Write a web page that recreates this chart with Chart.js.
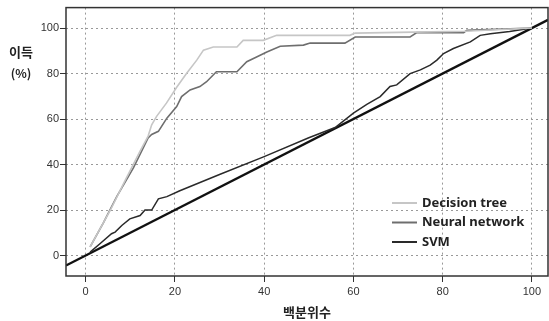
<!DOCTYPE html>
<html>
<head>
<meta charset="utf-8">
<script src="https://cdn.jsdelivr.net/npm/chart.js@4.4.7/dist/chart.umd.min.js"></script>
<style>
  html, body { margin: 0; padding: 0; background: #fff; }
  #chart { display: block; }
</style>
</head>
<body>
<canvas id="chart" width="549" height="321"></canvas>
<script>
// Gain chart: percentile (x) vs gain % (y)
const xRange = [-4.4, 103.6];
const yRange = [-9, 109];
const xTicks = [0, 20, 40, 60, 80, 100];
const yTicks = [0, 20, 40, 60, 80, 100];

const yTitle = ['이득', '(%)'];
const xTitle = '백분위수';
const seriesNames = ['Decision tree', 'Neural network', 'SVM'];

const decisionTreeX = [1, 5.5, 8.8, 12.2, 14, 14.8, 15.9, 18.1, 20.4, 22.6, 24.9, 26.4, 28.6, 33.9, 35.3, 39.8, 42.8, 59.2, 60.4, 73.4, 85, 100];
const decisionTreeY = [3.8, 19.8, 32.8, 45.9, 52.5, 57.5, 61.2, 67, 74, 80, 85.9, 90.3, 91.7, 91.7, 94.6, 94.6, 96.8, 96.8, 97.8, 98.2, 98.6, 100];

const neuralX = [1, 4, 7, 10.7, 14, 14.8, 16.3, 18.2, 20.4, 21.5, 23.4, 25.6, 27.1, 29.3, 33.9, 36.1, 38.3, 40.6, 43.6, 48.8, 50.3, 58.1, 60.4, 72.7, 74.2, 84.7, 85.4, 100];
const neuralY = [3.8, 14.5, 26, 38.5, 51.7, 53.2, 54.6, 60.4, 65.5, 69.9, 72.8, 74.3, 76.4, 80.8, 80.8, 85.2, 87.3, 89.5, 92, 92.5, 93.4, 93.4, 96.1, 96.1, 98, 98, 99, 100];

const svmX = [1, 3.2, 5.8, 6.6, 8.1, 9.9, 12.2, 13.3, 14.8, 16.3, 18.2, 21.1, 30, 40, 50, 55.9, 60, 63, 66, 68.2, 69.7, 72.7, 75, 77.2, 78.7, 80.2, 82.4, 86.2, 88.4, 90.7, 95, 100];
const svmY = [1.5, 5.2, 9.6, 10.3, 13.2, 16.1, 17.6, 20, 20, 24.9, 25.9, 28.5, 35.6, 43.5, 51.8, 56.3, 62.6, 66.5, 69.9, 74.3, 75, 80, 81.6, 83.7, 85.9, 88.8, 91, 93.9, 96.8, 97.5, 98.5, 100];

// random-selection reference line y = x
const baselineX = [-4.4, 103.6];
const baselineY = [-4.4, 103.6];

const SERIES_COLORS = ['#c6c6c6', '#6e6e6e', '#2a2a2a'];

function toPoints(xs, ys) {
  return xs.map((x, i) => ({ x, y: ys[i] }));
}

// axis titles + inline legend + frame
const decorPlugin = {
  id: 'decor',
  afterDraw(chart) {
    const { ctx, chartArea } = chart;
    ctx.save();
    ctx.strokeStyle = '#333';
    ctx.lineWidth = 1.5;
    ctx.strokeRect(chartArea.left, chartArea.top, chartArea.right - chartArea.left, chartArea.bottom - chartArea.top);

    ctx.fillStyle = '#222';
    ctx.textAlign = 'center';
    ctx.textBaseline = 'middle';
    ctx.font = "bold 13px 'Noto Sans CJK KR'";
    ctx.fillText(yTitle[0], 21, 52);
    ctx.font = "bold 12px 'Noto Sans CJK KR'";
    ctx.fillText(yTitle[1], 21, 73);
    ctx.font = "bold 13px 'Noto Sans CJK KR'";
    ctx.fillText(xTitle, (chartArea.left + chartArea.right) / 2, 312);

    // legend rows
    ctx.textAlign = 'left';
    ctx.font = "bold 13px 'Noto Sans'";
    chart.data.datasets.slice(0, 3).forEach((ds, i) => {
      const y = 203 + i * 19.5;
      ctx.strokeStyle = ds.borderColor;
      ctx.lineWidth = 2;
      ctx.beginPath();
      ctx.moveTo(392, y);
      ctx.lineTo(417, y);
      ctx.stroke();
      ctx.fillStyle = '#222';
      ctx.fillText(ds.label, 422, y);
    });
    ctx.restore();
  },
};

const lineStyle = {
  pointRadius: 0,
  tension: 0,
  fill: false,
};

new Chart(document.getElementById('chart'), {
  type: 'line',
  data: {
    datasets: [
      { label: seriesNames[0], data: toPoints(decisionTreeX, decisionTreeY), borderColor: SERIES_COLORS[0], borderWidth: 1.6, ...lineStyle },
      { label: seriesNames[1], data: toPoints(neuralX, neuralY), borderColor: SERIES_COLORS[1], borderWidth: 1.6, ...lineStyle },
      { label: seriesNames[2], data: toPoints(svmX, svmY), borderColor: SERIES_COLORS[2], borderWidth: 1.5, ...lineStyle },
      { label: 'baseline', data: toPoints(baselineX, baselineY), borderColor: '#111', borderWidth: 2.4, ...lineStyle },
    ],
  },
  options: {
    responsive: false,
    animation: false,
    layout: { padding: { top: 5, right: 1, left: 0, bottom: 0 } },
    plugins: {
      legend: { display: false },
      tooltip: { enabled: false },
    },
    scales: {
      x: {
        type: 'linear',
        min: xRange[0],
        max: xRange[1],
        afterBuildTicks: (s) => { s.ticks = xTicks.map((v) => ({ value: v })); },
        afterFit: (s) => { s.height = 45; },
        ticks: { color: '#333', padding: 3, maxRotation: 0, font: { family: 'Liberation Sans', size: 11 } },
        grid: { color: '#999', tickColor: '#333', tickLength: 6, tickBorderDash: [], lineWidth: 1 },
        border: { display: false, dash: [2, 3] },
      },
      y: {
        type: 'linear',
        min: yRange[0],
        max: yRange[1],
        afterBuildTicks: (s) => { s.ticks = yTicks.map((v) => ({ value: v })); },
        afterFit: (s) => { s.width = 66; },
        ticks: { color: '#333', padding: 1, font: { family: 'Liberation Sans', size: 11 } },
        grid: { color: '#999', tickColor: '#333', tickLength: 6, tickBorderDash: [], lineWidth: 1 },
        border: { display: false, dash: [2, 3] },
      },
    },
  },
  plugins: [decorPlugin],
});
</script>
</body>
</html>
